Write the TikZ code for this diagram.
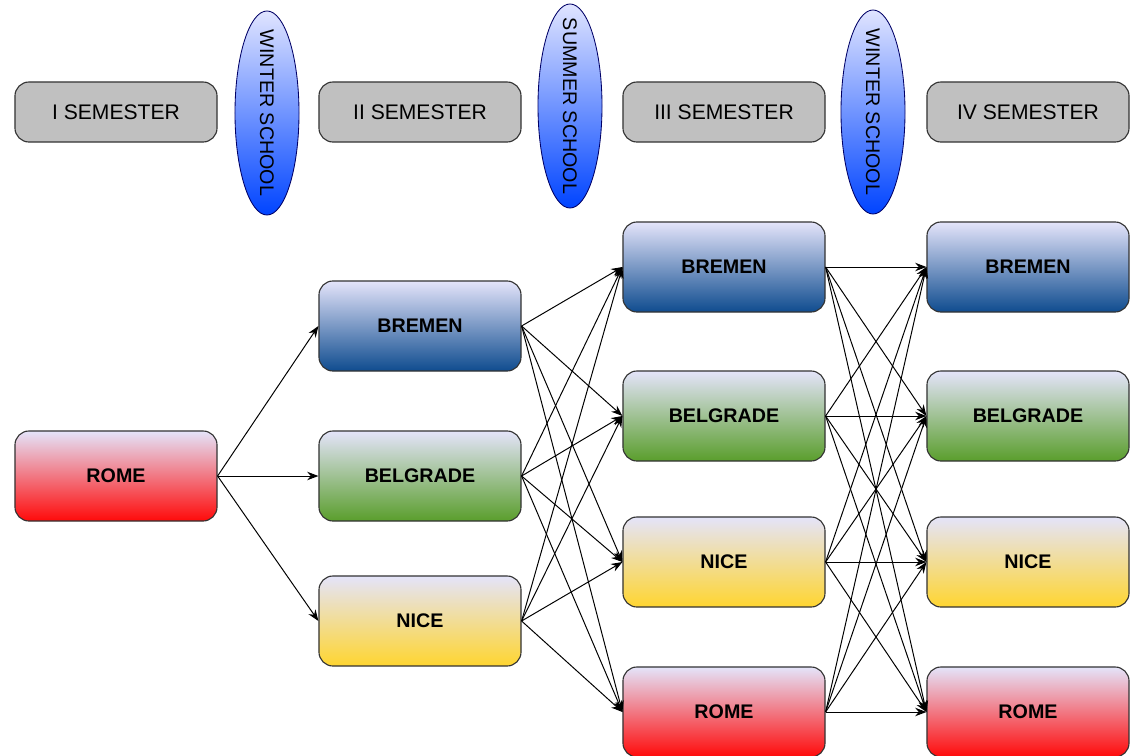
\documentclass[tikz,border=0pt]{standalone}
\usepackage{fontspec}
\setmainfont{Liberation Sans}
\usetikzlibrary{shapes.geometric,arrows.meta}

\definecolor{topcol}{HTML}{E4E4FA}
\definecolor{bremencol}{HTML}{0F4C8F}
\definecolor{belgradecol}{HTML}{5A9E2C}
\definecolor{nicecol}{HTML}{FFD530}
\definecolor{romecol}{HTML}{FF0A0A}
\definecolor{semcol}{HTML}{C0C0C0}
\definecolor{schooltop}{HTML}{E0E4FF}
\definecolor{schoolbot}{HTML}{0044FF}

\tikzset{
  semester/.style={draw=black!80, line width=0.8pt, rounded corners=0.35cm,
    fill=semcol, minimum width=5.05cm, minimum height=1.5cm,
    font=\fontsize{15}{18}\selectfont},
  school/.style={ellipse, draw=blue!40!black, line width=0.6pt, rotate=-90,
    top color=schooltop, bottom color=schoolbot,
    minimum width=5.1cm, minimum height=1.6cm, inner sep=0pt,
    font=\fontsize{14}{16}\selectfont},
  city/.style={draw=black!80, line width=0.8pt, rounded corners=0.35cm,
    minimum width=5.05cm, minimum height=2.25cm, top color=topcol,
    font=\bfseries\fontsize{14}{16}\selectfont},
  bremen/.style={city, bottom color=bremencol},
  belgrade/.style={city, bottom color=belgradecol},
  nice/.style={city, bottom color=nicecol},
  rome/.style={city, bottom color=romecol},
  link/.style={-{Stealth[length=8pt,width=6pt]}, line width=0.7pt}
}

\begin{document}
\begin{tikzpicture}[x=0.025cm, y=-0.025cm]
  \useasboundingbox (0,0) rectangle (1133,756);

  % 学期
  \node[semester] (sem1) at (116,112) {I SEMESTER};
  \node[semester] (sem2) at (420,112) {II SEMESTER};
  \node[semester] (sem3) at (724,112) {III SEMESTER};
  \node[semester] (sem4) at (1028,112) {IV SEMESTER};

  % 暑期/冬季学校
  \node[school] (win1) at (267,113) {\makebox[0pt]{WINTER SCHOOL}};
  \node[school] (sum) at (570,106) {\makebox[0pt]{SUMMER SCHOOL}};
  \node[school] (win2) at (873,112) {\makebox[0pt]{WINTER SCHOOL}};

  % 第一列
  \node[rome] (rome1) at (116,476) {ROME};

  % 第二列
  \node[bremen] (bremen2) at (420,326) {BREMEN};
  \node[belgrade] (belgrade2) at (420,476) {BELGRADE};
  \node[nice] (nice2) at (420,621) {NICE};

  % 第三列
  \node[bremen] (bremen3) at (724,267) {BREMEN};
  \node[belgrade] (belgrade3) at (724,416) {BELGRADE};
  \node[nice] (nice3) at (724,562) {NICE};
  \node[rome] (rome3) at (724,712) {ROME};

  % 第四列
  \node[bremen] (bremen4) at (1028,267) {BREMEN};
  \node[belgrade] (belgrade4) at (1028,416) {BELGRADE};
  \node[nice] (nice4) at (1028,562) {NICE};
  \node[rome] (rome4) at (1028,712) {ROME};

  % 连线
  \foreach \t in {bremen2,belgrade2,nice2}
    \draw[link] (rome1.east) -- (\t.west);
  \foreach \s in {bremen2,belgrade2,nice2}
    \foreach \t in {bremen3,belgrade3,nice3,rome3}
      \draw[link] (\s.east) -- (\t.west);
  \foreach \s in {bremen3,belgrade3,nice3,rome3}
    \foreach \t in {bremen4,belgrade4,nice4,rome4}
      \draw[link] (\s.east) -- (\t.west);

\end{tikzpicture}
\end{document}
